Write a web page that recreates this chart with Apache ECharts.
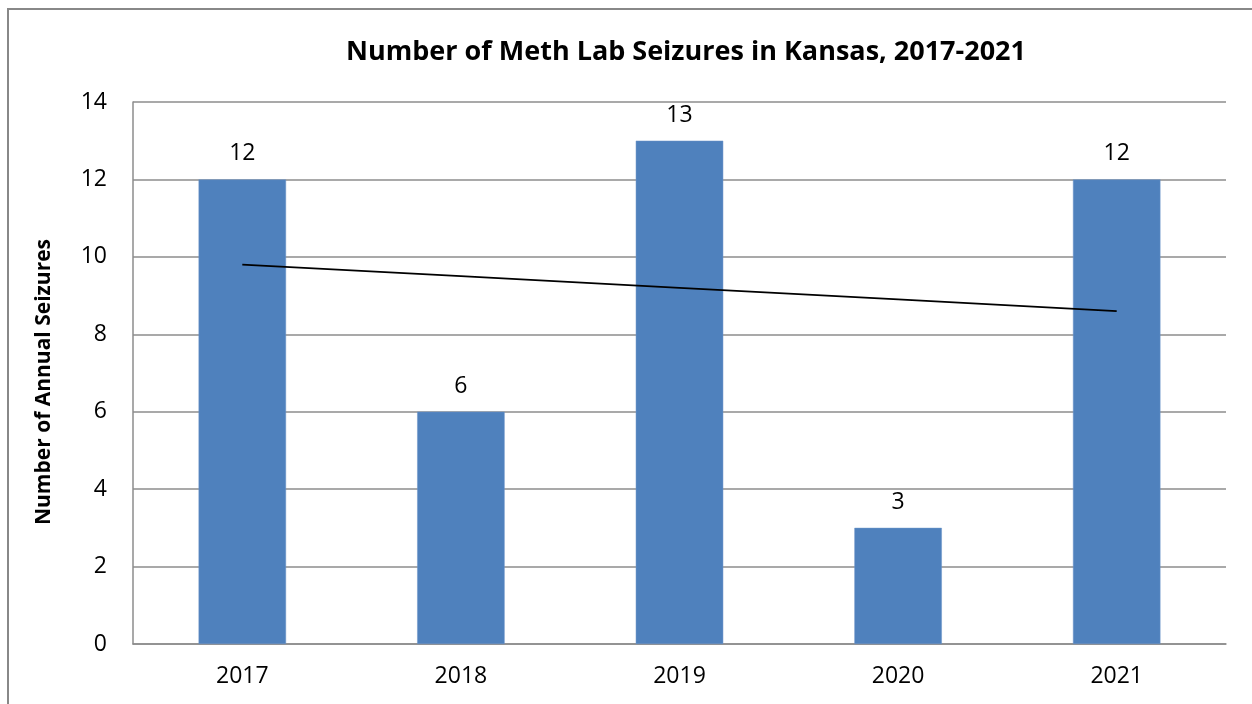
<!DOCTYPE html>
<html>
<head>
<meta charset="utf-8">
<script src="https://cdn.jsdelivr.net/npm/echarts@6/dist/echarts.min.js"></script>
<style>
html,body{margin:0;padding:0;background:#fff;}
#chart{width:1252px;height:704px;}
</style>
</head>
<body>
<div id="chart"></div>
<script>
const categories = ['2017', '2018', '2019', '2020', '2021'];
const seizures = [12, 6, 13, 3, 12];
const trendValues = [9.8, 9.5, 9.2, 8.9, 8.6];
const yTicks = [0, 2, 4, 6, 8, 10, 12, 14];

const FONT = '"Open Sans", Lato, sans-serif';
const chart = echarts.init(document.getElementById('chart'), null, {renderer: 'canvas'});
chart.setOption({
  animation: false,
  backgroundColor: '#ffffff',
  title: {
    text: 'Number of Meth Lab Seizures in Kansas, 2017-2021',
    left: 681, top: 34, textAlign: 'center',
    textStyle: {fontFamily: FONT, fontSize: 27, fontWeight: 'bold', color: '#000'}
  },
  graphic: [{
    type: 'rect', silent: true,
    shape: {x: 8, y: 9, width: 1260, height: 720},
    style: {fill: 'none', stroke: '#888888', lineWidth: 2}
  }],
  grid: {left: 133, right: 26, top: 102, bottom: 60, containLabel: false},
  xAxis: {
    type: 'category', data: categories,
    axisTick: {show: false},
    axisLine: {lineStyle: {color: '#8c8c8c', width: 1.5}},
    axisLabel: {fontFamily: FONT, fontSize: 23, color: '#000', margin: 21}
  },
  yAxis: {
    type: 'value', min: yTicks[0], max: yTicks[yTicks.length - 1], interval: 2,
    name: 'Number of Annual Seizures', nameLocation: 'middle', nameGap: 78, nameRotate: 90,
    nameTextStyle: {fontFamily: FONT, fontSize: 21, fontWeight: 'bold', color: '#000', padding: [0, 18, 0, 0]},
    axisLine: {show: true, lineStyle: {color: '#8c8c8c', width: 1.5}},
    axisTick: {show: false},
    splitLine: {lineStyle: {color: '#8c8c8c', width: 1.5}},
    axisLabel: {fontFamily: FONT, fontSize: 23, color: '#000', margin: 26}
  },
  series: [{
    type: 'bar', data: seizures, barWidth: '40%',
    itemStyle: {color: '#4F81BD', borderColor: '#6d95c8', borderWidth: 0.5},
    label: {show: true, position: 'top', distance: 14, fontFamily: FONT, fontSize: 23, color: '#000'}
  }, {
    type: 'line', data: trendValues, symbol: 'none', z: 5,
    lineStyle: {color: '#000', width: 1.8}
  }]
});
</script>
</body>
</html>
